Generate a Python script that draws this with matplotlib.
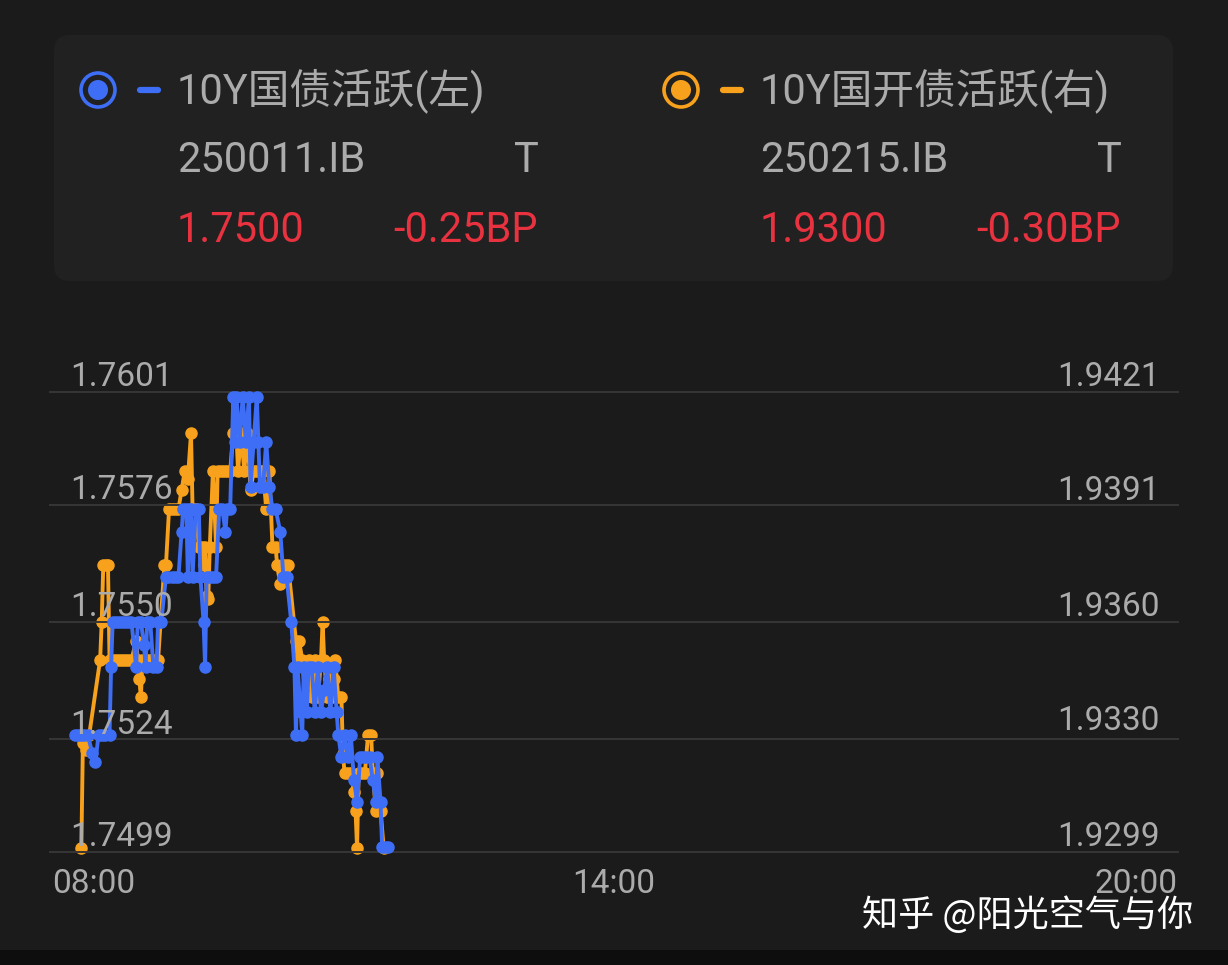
import matplotlib
matplotlib.use("Agg")
import matplotlib.pyplot as plt
from matplotlib.patches import FancyBboxPatch, Circle

# minutes after 08:00 and yield, 10Y 国债活跃 250011.IB (left axis)
blue_min = [16, 18, 20, 22, 24, 27, 29, 31, 33, 35, 38, 39, 40, 42, 44, 46, 48, 50, 52, 55,
            56, 58, 60, 61, 62, 64, 66, 68, 69, 71, 74, 75, 78, 80, 82, 84, 85, 87, 88, 89,
            90, 91, 93, 95, 96, 98, 99, 100, 102, 104, 106, 108, 110, 112, 113, 115, 117, 118, 119, 121,
            123, 125, 127, 128, 130, 132, 133, 134, 136, 138, 140, 142, 144, 147, 149, 151, 154, 156, 157, 158,
            160, 161, 162, 164, 165, 167, 169, 171, 173, 175, 177, 179, 181, 183, 184, 186, 188, 190, 192, 194,
            196, 198, 200, 202, 204, 206, 208, 209, 211, 212, 214, 216]
blue_val = [1.7525, 1.7525, 1.7525, 1.7525, 1.7525, 1.7521, 1.7519, 1.7525, 1.7525, 1.7525, 1.7525, 1.7540, 1.7550, 1.7550, 1.7550, 1.7550, 1.7550, 1.7550, 1.7550, 1.7540,
            1.7550, 1.7550, 1.7545, 1.7540, 1.7550, 1.7550, 1.7540, 1.7540, 1.7550, 1.7550, 1.7560, 1.7560, 1.7560, 1.7560, 1.7560, 1.7570, 1.7575, 1.7575, 1.7560, 1.7575,
            1.7575, 1.7560, 1.7575, 1.7575, 1.7560, 1.7550, 1.7540, 1.7560, 1.7560, 1.7560, 1.7560, 1.7575, 1.7575, 1.7570, 1.7575, 1.7575, 1.7600, 1.7590, 1.7600, 1.7590,
            1.7600, 1.7590, 1.7600, 1.7580, 1.7590, 1.7600, 1.7590, 1.7580, 1.7580, 1.7590, 1.7580, 1.7575, 1.7575, 1.7570, 1.7560, 1.7560, 1.7550, 1.7540, 1.7525, 1.7540,
            1.7530, 1.7525, 1.7540, 1.7530, 1.7540, 1.7540, 1.7530, 1.7540, 1.7530, 1.7535, 1.7540, 1.7530, 1.7540, 1.7530, 1.7525, 1.7520, 1.7525, 1.7520, 1.7525, 1.7515,
            1.7510, 1.7520, 1.7520, 1.7520, 1.7520, 1.7515, 1.7510, 1.7520, 1.7510, 1.7500, 1.7500, 1.7500]

# 10Y 国开债活跃 250215.IB (right axis)
orange_min = [20, 21, 23, 25, 32, 33, 34, 36, 37, 38, 40, 42, 44, 46, 48, 50, 52, 55, 56, 57,
              58, 59, 61, 63, 65, 67, 69, 73, 74, 76, 78, 80, 82, 84, 86, 88, 90, 91, 93, 95,
              97, 98, 99, 100, 101, 102, 104, 106, 107, 109, 111, 113, 115, 117, 119, 120, 122, 124, 126, 128,
              130, 132, 134, 136, 138, 140, 142, 144, 145, 147, 148, 150, 152, 157, 158, 159, 161, 163, 165, 167,
              169, 171, 173, 174, 175, 177, 178, 180, 181, 182, 184, 186, 187, 188, 190, 192, 194, 195, 196, 197,
              199, 201, 203, 205, 206, 208, 209, 211, 213]
orange_val = [1.9300, 1.9328, 1.9326, 1.9330, 1.9350, 1.9360, 1.9375, 1.9375, 1.9375, 1.9350, 1.9350, 1.9350, 1.9350, 1.9350, 1.9350, 1.9350, 1.9350, 1.9355, 1.9350, 1.9345,
              1.9340, 1.9350, 1.9350, 1.9350, 1.9350, 1.9350, 1.9350, 1.9375, 1.9375, 1.9390, 1.9390, 1.9390, 1.9390, 1.9395, 1.9400, 1.9398, 1.9410, 1.9390, 1.9390, 1.9380,
              1.9380, 1.9375, 1.9380, 1.9367, 1.9366, 1.9380, 1.9400, 1.9380, 1.9400, 1.9400, 1.9400, 1.9400, 1.9400, 1.9410, 1.9410, 1.9400, 1.9410, 1.9400, 1.9410, 1.9395,
              1.9400, 1.9400, 1.9400, 1.9400, 1.9390, 1.9400, 1.9380, 1.9380, 1.9375, 1.9370, 1.9375, 1.9375, 1.9375, 1.9355, 1.9350, 1.9355, 1.9350, 1.9340, 1.9350, 1.9340,
              1.9350, 1.9340, 1.9350, 1.9360, 1.9350, 1.9340, 1.9345, 1.9340, 1.9345, 1.9350, 1.9340, 1.9340, 1.9325, 1.9320, 1.9320, 1.9320, 1.9315, 1.9310, 1.9300, 1.9320,
              1.9320, 1.9320, 1.9330, 1.9330, 1.9320, 1.9310, 1.9320, 1.9310, 1.9300]

left_ticks = [1.7499, 1.7524, 1.7550, 1.7576, 1.7601]
right_ticks = [1.9299, 1.9330, 1.9360, 1.9391, 1.9421]
x_labels = ["08:00", "14:00", "20:00"]

BG = "#1b1b1b"
CARD = "#212121"
GRID = "#363636"
GREY = "#ababab"
RED = "#e8323f"
BLUE = "#3d6ef5"
ORANGE = "#f7a11c"
FONT = ["Roboto", "Noto Sans CJK SC", "DejaVu Sans"]

fig = plt.figure(figsize=(12.28, 9.65), dpi=100, facecolor=BG)

# overlay in pixel coordinates for the card / legend / watermark
ov = fig.add_axes([0, 0, 1, 1], zorder=0)
ov.set_xlim(0, 1228)
ov.set_ylim(965, 0)
ov.axis("off")
ov.add_patch(FancyBboxPatch((54, 35), 1119, 246, boxstyle="round,pad=0,rounding_size=16",
                            fc=CARD, ec="none"))
ov.add_patch(plt.Rectangle((0, 950), 1228, 15, fc="#0e0e0e", ec="none"))

legend = [
    (98, BLUE, "10Y国债活跃(左)", "250011.IB", "1.7500", "-0.25BP"),
    (681, ORANGE, "10Y国开债活跃(右)", "250215.IB", "1.9300", "-0.30BP"),
]
for cx, col, title, code, last, chg in legend:
    ov.add_patch(Circle((cx, 90), 17, fc="none", ec=col, lw=2.6))
    ov.add_patch(Circle((cx, 90), 10, fc=col, ec="none"))
    ov.plot([cx + 42, cx + 60], [90, 90], color=col, lw=4.5, solid_capstyle="round")
    tx = cx + 79
    ov.text(tx, 91, title, color=GREY, fontsize=30, family=FONT, va="center", ha="left")
    ov.text(tx, 161, code, color=GREY, fontsize=30, family=FONT, va="center", ha="left")
    ov.text(tx + 349, 161, "T", color=GREY, fontsize=30, family=FONT, va="center", ha="center")
    ov.text(tx, 231, last, color=RED, fontsize=30, family=FONT, va="center", ha="left")
    ov.text(tx + 361, 231, chg, color=RED, fontsize=30, family=FONT, va="center", ha="right")

ov.text(862, 915, "知乎 @阳光空气与你", color="white", fontsize=26,
        family=["Noto Sans CJK SC", "DejaVu Sans"], va="center", ha="left", zorder=5)

# main chart
ax = fig.add_axes([50 / 1228, 1 - 852 / 965, 1128 / 1228, 460 / 965], zorder=1)
ax.set_facecolor("none")
ax2 = ax.twinx()
ax2.set_zorder(0)
ax.set_zorder(2)
for a in (ax, ax2):
    for s in a.spines.values():
        s.set_visible(False)
    a.set_xticks([])
    a.set_yticks([])

ax.set_xlim(0, 720)
ax.set_ylim(left_ticks[0], left_ticks[-1])
ax2.set_ylim(right_ticks[0], right_ticks[-1])

for v in left_ticks:
    ax.axhline(v, color=GRID, lw=1.4, zorder=0, clip_on=False)

ax2.plot(orange_min, orange_val, color=ORANGE, lw=2.8, marker="o", ms=8,
         clip_on=False, zorder=3)
ax.plot(blue_min, blue_val, color=BLUE, lw=2.8, marker="o", ms=8,
        clip_on=False, zorder=3)

ytr = ax.get_yaxis_transform()
for v in left_ticks:
    ax.annotate(f"{v:.4f}", xy=(0.0177, v), xycoords=ytr, xytext=(0, 4),
                textcoords="offset points", color=GREY, fontsize=24, family=FONT,
                ha="left", va="baseline", zorder=4)
ytr2 = ax2.get_yaxis_transform()
for v in right_ticks:
    ax2.annotate(f"{v:.4f}", xy=(0.984, v), xycoords=ytr2, xytext=(0, 4),
                 textcoords="offset points", color=GREY, fontsize=24, family=FONT,
                 ha="right", va="baseline", zorder=4)

for pos, lab, ha in zip([0, 360, 720], x_labels, ["left", "center", "right"]):
    ax.annotate(lab, xy=(pos, 0), xycoords=ax.get_xaxis_transform(), xytext=(0 if ha != "left" else 1.5, -23),
                textcoords="offset points", color=GREY, fontsize=24, family=FONT,
                ha=ha, va="center")

fig.savefig("out.png", dpi=100, facecolor=BG)
